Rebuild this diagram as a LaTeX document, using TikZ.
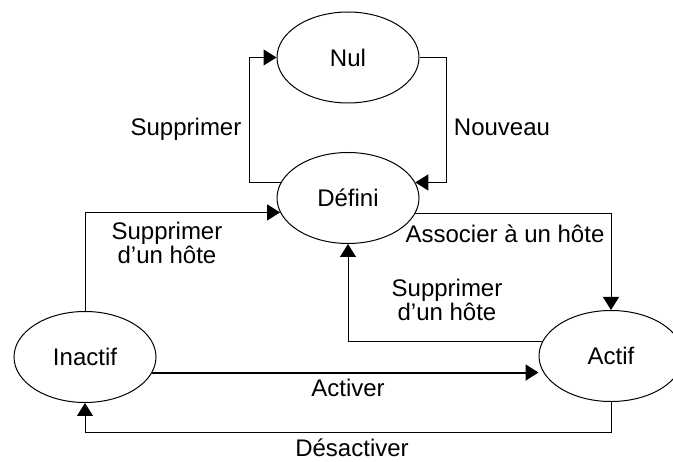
\documentclass[tikz,border=0pt]{standalone}
\usepackage{fontspec}
\setmainfont{Liberation Sans}
\usetikzlibrary{shapes.geometric,arrows.meta}
\begin{document}
\begin{tikzpicture}[x=1pt,y=-1pt,
  state/.style={draw,ellipse,line width=1pt,minimum width=142pt,minimum height=91pt,inner sep=0pt,font=\fontsize{24}{24}\selectfont},
  lbl/.style={inner sep=0pt,anchor=base,align=center,font=\fontsize{24}{24}\selectfont},
  conn/.style={line width=1pt,-{Triangle[length=13pt,width=16pt]}},
  thick conn/.style={line width=2pt,-{Triangle[length=13pt,width=16pt]}}]
\useasboundingbox (0,0) rectangle (673,462);
\node[state] (Nul) at (348,57.5) {Nul};
\node[state] (Defini) at (348,198) {Défini};
\node[state] (Inactif) at (85,357) {Inactif};
\node[state,minimum width=144pt] (Actif) at (611,356) {Actif};
% connectors
\draw[conn] (Defini.167) -| ([xshift=-27pt]Nul.west) -- (Nul.west);
\draw[conn] (Nul.east) -- ++(27,0) |- (Defini.13);
\draw[conn] (Inactif.north) |- (Defini.192);
\draw[conn] (Defini.347) -| (Actif.north);
\draw[conn] (Actif.168) -| (Defini.south);
\draw[thick conn] (Inactif.347) -- (Inactif.347 -| Actif.west);
\draw[conn] (Actif.south) -- ++(0,31) -| (Inactif.south);
% labels
\node[lbl] (l1) at (186,136) {Supprimer};
\node[lbl] (l2) at (502,136) {Nouveau};
\node[lbl] (l3) at (167,264) {Supprimer\\d\char39un hôte};
\node[lbl] (l4) at (505,243) {Associer à un hôte};
\node[lbl] (l5) at (447,321) {Supprimer\\d\char39un hôte};
\node[lbl] (l6) at (348,397) {Activer};
\node[lbl] (l7) at (352,457) {Désactiver};
\end{tikzpicture}
\end{document}
